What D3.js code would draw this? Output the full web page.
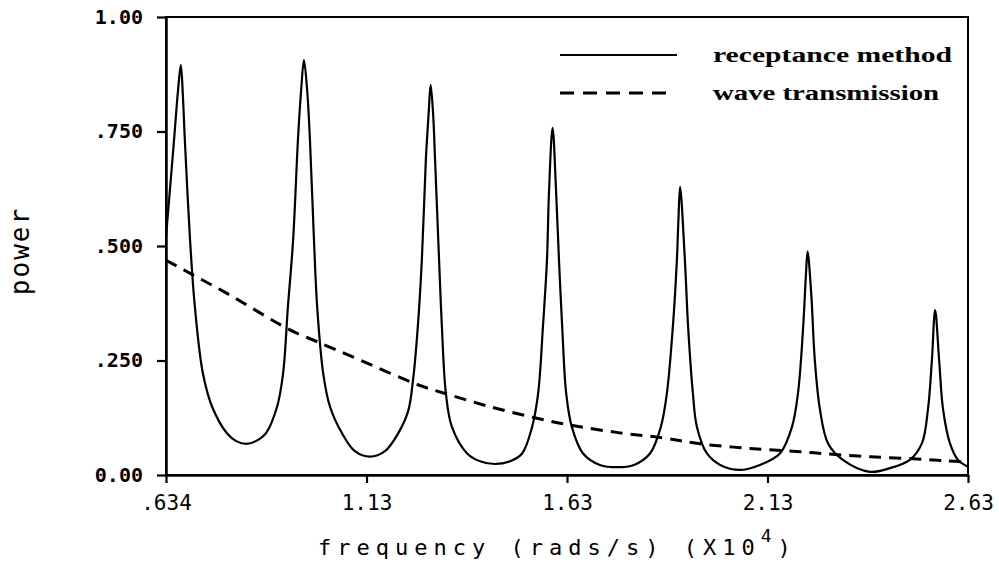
<!DOCTYPE html>
<html>
<head>
<meta charset="utf-8">
<script src="https://cdn.jsdelivr.net/npm/d3@7"></script>
<style>
  html, body { margin: 0; padding: 0; background: #fff; }
  svg { display: block; }
</style>
</head>
<body>
<svg id="chart" width="999" height="573"></svg>
<script>
// Frequency axis values are in units of 10^4 rad/s.
const xTickValues = [0.634, 1.134, 1.634, 2.134, 2.634];
const xTickLabels = [".634", "1.13", "1.63", "2.13", "2.63"];
const yTickValues = [0, 0.25, 0.5, 0.75, 1.0];
const yTickLabels = ["0.00", ".250", ".500", ".750", "1.00"];

// Receptance method: transmitted power vs frequency
const receptanceFreq = [
  0.634, 0.653, 0.664, 0.671, 0.676, 0.681, 0.694, 0.706, 0.726, 0.749,
  0.786, 0.809, 0.834, 0.858, 0.883, 0.911, 0.926, 0.938, 0.951, 0.963,
  0.971, 0.978, 0.986, 0.993, 1.003, 1.011, 1.026, 1.043, 1.073, 1.105,
  1.143, 1.180, 1.213, 1.238, 1.250, 1.262, 1.272, 1.282, 1.289, 1.294,
  1.300, 1.305, 1.315, 1.322, 1.332, 1.347, 1.385, 1.417, 1.454, 1.492,
  1.522, 1.547, 1.562, 1.574, 1.584, 1.589, 1.598, 1.607, 1.614, 1.622,
  1.632, 1.646, 1.674, 1.716, 1.759, 1.801, 1.841, 1.868, 1.883, 1.898,
  1.908, 1.912, 1.916, 1.928, 1.936, 1.948, 1.958, 1.983, 2.016, 2.065,
  2.115, 2.165, 2.195, 2.210, 2.223, 2.230, 2.234, 2.243, 2.252, 2.265,
  2.285, 2.322, 2.389, 2.439, 2.489, 2.519, 2.534, 2.544, 2.552, 2.562,
  2.572, 2.589, 2.609, 2.634
];
const receptancePower = [
  0.520, 0.720, 0.840, 0.895, 0.830, 0.731, 0.513, 0.367, 0.222, 0.149,
  0.091, 0.074, 0.068, 0.074, 0.091, 0.149, 0.222, 0.367, 0.513, 0.731,
  0.840, 0.906, 0.840, 0.731, 0.513, 0.367, 0.222, 0.149, 0.091, 0.052,
  0.040, 0.052, 0.091, 0.140, 0.207, 0.324, 0.469, 0.688, 0.790, 0.852,
  0.790, 0.688, 0.469, 0.324, 0.178, 0.105, 0.047, 0.030, 0.024, 0.030,
  0.047, 0.105, 0.178, 0.324, 0.469, 0.615, 0.758, 0.615, 0.469, 0.324,
  0.178, 0.105, 0.047, 0.022, 0.017, 0.022, 0.047, 0.105, 0.178, 0.324,
  0.469, 0.560, 0.629, 0.469, 0.324, 0.178, 0.105, 0.047, 0.022, 0.011,
  0.022, 0.047, 0.105, 0.178, 0.324, 0.440, 0.488, 0.397, 0.251, 0.142,
  0.069, 0.033, 0.007, 0.015, 0.033, 0.069, 0.142, 0.251, 0.360, 0.251,
  0.142, 0.069, 0.033, 0.018
];

// Wave transmission approach
const waveFreq = [
  0.634, 0.701, 0.785, 0.943, 1.011, 1.118, 1.262, 1.330, 1.442, 1.559,
  1.641, 1.766, 1.873, 1.966, 2.090, 2.215, 2.282, 2.390, 2.507, 2.582, 2.634
];
const wavePower = [
  0.469, 0.437, 0.397, 0.317, 0.291, 0.251, 0.197, 0.178, 0.149, 0.124,
  0.109, 0.092, 0.081, 0.068, 0.058, 0.051, 0.046, 0.040, 0.035, 0.031, 0.028
];

const seriesNames = ["receptance method", "wave transmission"];

const svg = d3.select("#chart");
const margin = { left: 166, right: 31, top: 17, bottom: 98 };
const W = 999, H = 573;
const plotW = W - margin.left - margin.right;
const plotH = H - margin.top - margin.bottom;

const x = d3.scaleLinear().domain([0.634, 2.634]).range([margin.left, margin.left + plotW]);
const y = d3.scaleLinear().domain([0, 1]).range([margin.top + plotH, margin.top]);

const monoFont = "'DejaVu Sans Mono', monospace";

// Frame (top and right edges)
svg.append("rect")
  .attr("x", margin.left).attr("y", margin.top)
  .attr("width", plotW).attr("height", plotH)
  .attr("fill", "none").attr("stroke", "#000").attr("stroke-width", 2);

// Y axis
const yAxis = d3.axisLeft(y)
  .tickValues(yTickValues)
  .tickFormat((d, i) => yTickLabels[i])
  .tickSize(9).tickSizeOuter(0).tickPadding(14);
const gy = svg.append("g").attr("transform", `translate(${margin.left},0)`).call(yAxis);
gy.select(".domain").attr("stroke-width", 2.5);
gy.selectAll(".tick line").attr("stroke-width", 2.2);
gy.selectAll(".tick text")
  .attr("font-family", monoFont).attr("font-size", 20).attr("font-weight", "bold")
  .attr("fill", "#000");

// X axis
const xAxis = d3.axisBottom(x)
  .tickValues(xTickValues)
  .tickFormat((d, i) => xTickLabels[i])
  .tickSize(8).tickSizeOuter(0).tickPadding(12);
const gx = svg.append("g").attr("transform", `translate(0,${margin.top + plotH})`).call(xAxis);
gx.select(".domain").attr("stroke-width", 2.5);
gx.selectAll(".tick line").attr("stroke-width", 2.2);
gx.selectAll(".tick text")
  .attr("font-family", monoFont).attr("font-size", 21)
  .attr("fill", "#000");

// Curves
svg.append("clipPath").attr("id", "plotclip")
  .append("rect").attr("x", margin.left).attr("y", margin.top - 2)
  .attr("width", plotW).attr("height", plotH + 2);

const line = d3.line()
  .x(d => x(d[0]))
  .y(d => y(d[1]))
  .curve(d3.curveCatmullRom.alpha(0.5));

const receptance = receptanceFreq.map((f, i) => [f, receptancePower[i]]);
const wave = waveFreq.map((f, i) => [f, wavePower[i]]);

svg.append("path")
  .datum(wave)
  .attr("clip-path", "url(#plotclip)")
  .attr("d", line)
  .attr("fill", "none").attr("stroke", "#000")
  .attr("stroke-width", 3).attr("stroke-dasharray", "12,8");

svg.append("path")
  .datum(receptance)
  .attr("clip-path", "url(#plotclip)")
  .attr("d", line)
  .attr("fill", "none").attr("stroke", "#000")
  .attr("stroke-width", 2.2).attr("stroke-linejoin", "round");

// Legend
const legend = svg.append("g");
const legendRows = [
  { name: seriesNames[0], y: 55, x2: 677, dash: null, width: 2.2, textLen: 239 },
  { name: seriesNames[1], y: 93, x2: 667, dash: "14,9", width: 3, textLen: 226 }
];
legendRows.forEach(r => {
  legend.append("line")
    .attr("x1", 560).attr("x2", r.x2).attr("y1", r.y).attr("y2", r.y)
    .attr("stroke", "#000").attr("stroke-width", r.width)
    .attr("stroke-dasharray", r.dash);
  legend.append("text")
    .attr("x", 713).attr("y", r.y + 7)
    .attr("font-family", "'Liberation Serif', serif")
    .attr("font-weight", "bold").attr("font-size", 20)
    .attr("textLength", r.textLen).attr("lengthAdjust", "spacingAndGlyphs")
    .text(r.name);
});

// Axis titles
const xt = svg.append("text")
  .attr("x", 318).attr("y", 555)
  .attr("font-family", monoFont).attr("font-size", 22)
  .attr("letter-spacing", 6).attr("fill", "#000");
xt.append("tspan").text("frequency (rads/s) (X10");
xt.append("tspan").attr("dy", -13).attr("font-size", 18).text("4");
xt.append("tspan").attr("dy", 13).text(")");

svg.append("text")
  .attr("transform", "translate(29,251) rotate(-90)")
  .attr("text-anchor", "middle")
  .attr("font-family", monoFont).attr("font-size", 26)
  .attr("letter-spacing", 2).attr("fill", "#000")
  .text("power");
</script>
</body>
</html>
